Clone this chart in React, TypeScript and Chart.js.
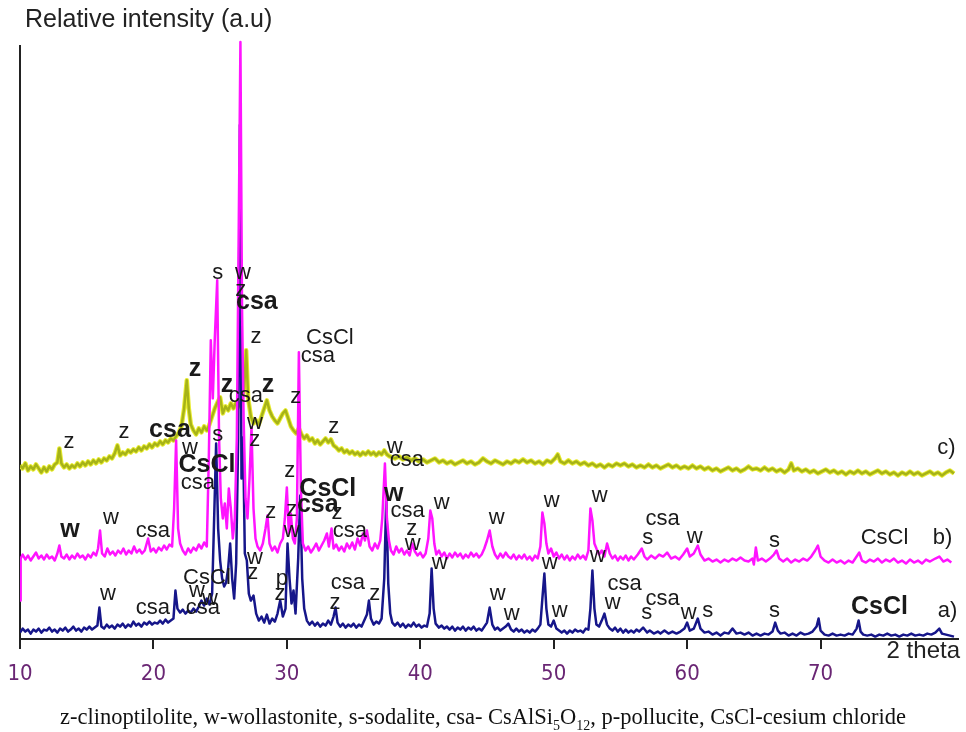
import React, { useEffect, useRef, useState } from "react";
import { Chart, registerables } from "chart.js";

Chart.register(...registerables);

// Sample a) — [2theta, relative intensity]
const traceA: number[][] = [
  [10.0, 6], [10.2, 10], [10.4, 7], [10.6, 9], [10.8, 5], [11.0, 9], [11.2, 7], [11.4, 10], [11.6, 6], [11.8, 9],
  [12.0, 8], [12.2, 11], [12.4, 7], [12.6, 9], [12.8, 6], [13.0, 10], [13.2, 8], [13.4, 11], [13.6, 7], [13.8, 9],
  [14.0, 12], [14.2, 8], [14.4, 10], [14.6, 7], [14.8, 11], [15.0, 9], [15.2, 12], [15.4, 9], [15.6, 11], [15.8, 13],
  [15.95, 31], [16.1, 12], [16.3, 10], [16.5, 14], [16.7, 11], [16.9, 13], [17.1, 10], [17.3, 14], [17.5, 12], [17.7, 15],
  [17.9, 11], [18.1, 14], [18.3, 12], [18.5, 17], [18.7, 13], [18.9, 15], [19.1, 12], [19.3, 16], [19.5, 14], [19.7, 17],
  [19.9, 14], [20.1, 16], [20.3, 15], [20.5, 18], [20.7, 15], [20.9, 19], [21.1, 16], [21.3, 18], [21.5, 20], [21.65, 48],
  [21.8, 30], [22.0, 26], [22.2, 29], [22.4, 25], [22.6, 28], [22.8, 26], [23.0, 30], [23.2, 27], [23.4, 32], [23.6, 38],
  [23.8, 33], [24.0, 40], [24.2, 34], [24.4, 45], [24.55, 120], [24.7, 195], [24.85, 110], [25.0, 78], [25.15, 60], [25.3, 52],
  [25.45, 56], [25.6, 70], [25.75, 95], [25.9, 60], [26.05, 40], [26.2, 75], [26.35, 200], [26.48, 513], [26.6, 160], [26.72, 201],
  [26.85, 85], [27.0, 78], [27.15, 45], [27.3, 38], [27.5, 43], [27.7, 25], [27.9, 18], [28.1, 22], [28.3, 16], [28.5, 24],
  [28.7, 15], [28.9, 20], [29.1, 17], [29.3, 25], [29.5, 38], [29.7, 22], [29.9, 30], [30.05, 95], [30.2, 60], [30.35, 35],
  [30.5, 48], [30.65, 25], [30.85, 80], [31.0, 143], [31.15, 60], [31.3, 30], [31.5, 18], [31.7, 14], [31.9, 17], [32.1, 13],
  [32.3, 16], [32.5, 12], [32.7, 15], [32.9, 13], [33.1, 18], [33.3, 14], [33.5, 22], [33.65, 31], [33.8, 16], [34.0, 12],
  [34.2, 15], [34.4, 11], [34.6, 14], [34.8, 12], [35.0, 15], [35.2, 11], [35.4, 14], [35.6, 12], [35.8, 18], [36.0, 24],
  [36.15, 38], [36.3, 20], [36.5, 14], [36.7, 17], [36.9, 15], [37.1, 20], [37.3, 60], [37.45, 141], [37.6, 55], [37.75, 25],
  [37.9, 16], [38.1, 13], [38.3, 16], [38.5, 12], [38.7, 15], [38.9, 11], [39.1, 14], [39.3, 12], [39.5, 16], [39.7, 12],
  [39.9, 14], [40.1, 11], [40.3, 13], [40.5, 12], [40.7, 25], [40.85, 70], [41.0, 30], [41.15, 15], [41.4, 11], [41.6, 13],
  [41.8, 10], [42.0, 12], [42.2, 9], [42.4, 12], [42.6, 8], [42.8, 11], [43.0, 9], [43.2, 12], [43.4, 8], [43.6, 11],
  [43.8, 9], [44.0, 12], [44.2, 8], [44.4, 10], [44.6, 8], [44.8, 12], [45.0, 16], [45.2, 31], [45.4, 14], [45.6, 9],
  [45.8, 11], [46.0, 8], [46.2, 10], [46.4, 12], [46.6, 15], [46.8, 9], [47.0, 7], [47.2, 10], [47.4, 7], [47.6, 9],
  [47.8, 6], [48.0, 8], [48.2, 6], [48.4, 9], [48.6, 7], [48.8, 10], [49.0, 14], [49.15, 40], [49.3, 65], [49.45, 30],
  [49.6, 14], [49.8, 12], [50.0, 18], [50.2, 10], [50.4, 8], [50.6, 6], [50.8, 8], [51.0, 5], [51.2, 8], [51.4, 6],
  [51.6, 9], [51.8, 7], [52.0, 8], [52.2, 6], [52.4, 10], [52.6, 9], [52.75, 30], [52.9, 68], [53.05, 30], [53.2, 14],
  [53.4, 12], [53.6, 18], [53.8, 25], [54.0, 14], [54.2, 10], [54.4, 8], [54.6, 11], [54.8, 7], [55.0, 10], [55.2, 6],
  [55.4, 9], [55.6, 6], [55.8, 8], [56.0, 6], [56.2, 9], [56.4, 7], [56.7, 11], [57.0, 6], [57.2, 8], [57.5, 5],
  [57.8, 7], [58.0, 5], [58.3, 8], [58.6, 5], [58.9, 7], [59.2, 5], [59.5, 7], [59.8, 10], [60.0, 16], [60.2, 8],
  [60.5, 10], [60.8, 20], [61.0, 10], [61.3, 6], [61.6, 7], [61.9, 4], [62.2, 6], [62.5, 3], [62.8, 6], [63.1, 5],
  [63.4, 10], [63.7, 5], [64.0, 6], [64.3, 4], [64.6, 6], [64.9, 3], [65.2, 5], [65.5, 3], [65.8, 5], [66.1, 4],
  [66.4, 7], [66.6, 16], [66.8, 8], [67.0, 5], [67.3, 6], [67.6, 3], [67.9, 5], [68.2, 3], [68.5, 6], [68.8, 4],
  [69.1, 5], [69.4, 7], [69.7, 12], [69.85, 20], [70.0, 8], [70.3, 4], [70.6, 3], [70.9, 5], [71.2, 3], [71.5, 4],
  [71.8, 3], [72.1, 5], [72.4, 4], [72.7, 10], [72.85, 18], [73.0, 7], [73.2, 4], [73.5, 3], [73.8, 4], [74.1, 2],
  [74.4, 4], [74.7, 3], [75.0, 5], [75.3, 3], [75.6, 4], [75.9, 2], [76.2, 4], [76.5, 3], [76.8, 5], [77.1, 3],
  [77.4, 4], [77.7, 3], [78.0, 5], [78.3, 4], [78.6, 6], [78.9, 10], [79.1, 5], [79.4, 4], [79.7, 3], [80.0, 2],
];

// Sample b)
const traceB: number[][] = [
  [10.0, 38], [10.05, 80], [10.2, 84], [10.4, 79], [10.6, 83], [10.8, 78], [11.0, 82], [11.2, 86], [11.4, 80], [11.6, 83],
  [11.8, 79], [12.0, 84], [12.2, 80], [12.4, 82], [12.6, 78], [12.8, 85], [12.95, 93], [13.1, 82], [13.3, 80], [13.5, 84],
  [13.7, 79], [13.9, 83], [14.1, 80], [14.3, 85], [14.5, 81], [14.7, 83], [14.9, 79], [15.1, 84], [15.3, 81], [15.5, 86],
  [15.7, 83], [15.85, 90], [16.0, 108], [16.15, 85], [16.35, 82], [16.55, 90], [16.75, 84], [16.95, 87], [17.15, 83], [17.35, 88],
  [17.55, 85], [17.75, 90], [17.95, 84], [18.15, 88], [18.35, 85], [18.55, 92], [18.75, 86], [18.95, 89], [19.15, 85], [19.35, 88],
  [19.6, 100], [19.8, 87], [20.0, 90], [20.2, 86], [20.4, 91], [20.6, 88], [20.8, 93], [21.0, 89], [21.2, 94], [21.4, 92],
  [21.55, 130], [21.7, 198], [21.85, 110], [22.0, 95], [22.2, 88], [22.4, 84], [22.6, 90], [22.8, 86], [23.0, 91], [23.2, 88],
  [23.4, 94], [23.6, 90], [23.8, 96], [24.0, 92], [24.15, 180], [24.3, 298], [24.45, 240], [24.6, 300], [24.78, 358], [24.92, 200],
  [25.05, 140], [25.2, 120], [25.35, 135], [25.5, 110], [25.65, 150], [25.8, 130], [25.95, 100], [26.1, 120], [26.25, 200], [26.4, 420],
  [26.52, 596], [26.64, 330], [26.76, 220], [26.9, 140], [27.05, 120], [27.2, 160], [27.35, 211], [27.5, 130], [27.65, 100], [27.8, 92],
  [28.0, 88], [28.2, 95], [28.4, 110], [28.55, 123], [28.7, 95], [28.9, 88], [29.1, 92], [29.3, 86], [29.5, 95], [29.7, 100],
  [29.85, 120], [30.0, 151], [30.15, 105], [30.3, 125], [30.45, 100], [30.6, 95], [30.75, 120], [30.9, 286], [31.05, 150], [31.2, 95],
  [31.4, 88], [31.6, 92], [31.8, 86], [32.0, 90], [32.2, 95], [32.4, 88], [32.6, 93], [32.8, 98], [33.0, 105], [33.15, 92],
  [33.35, 110], [33.5, 90], [33.7, 94], [33.9, 88], [34.1, 92], [34.3, 87], [34.5, 95], [34.7, 90], [34.9, 96], [35.1, 89],
  [35.3, 100], [35.5, 93], [35.7, 105], [35.85, 98], [36.0, 108], [36.2, 92], [36.4, 88], [36.6, 95], [36.8, 90], [37.0, 98],
  [37.15, 120], [37.35, 175], [37.5, 120], [37.65, 98], [37.8, 88], [38.0, 84], [38.2, 92], [38.4, 86], [38.6, 90], [38.8, 84],
  [39.0, 88], [39.2, 83], [39.4, 95], [39.6, 87], [39.8, 83], [40.0, 86], [40.2, 81], [40.4, 85], [40.6, 100], [40.75, 128],
  [40.9, 120], [41.05, 95], [41.2, 84], [41.4, 88], [41.6, 82], [41.8, 86], [42.0, 80], [42.2, 85], [42.4, 81], [42.6, 86],
  [42.8, 82], [43.0, 85], [43.2, 80], [43.4, 84], [43.6, 81], [43.8, 86], [44.0, 82], [44.2, 85], [44.4, 81], [44.6, 84],
  [44.8, 90], [45.0, 98], [45.2, 108], [45.4, 92], [45.6, 84], [45.8, 80], [46.0, 85], [46.2, 81], [46.4, 86], [46.6, 82],
  [46.8, 80], [47.0, 84], [47.2, 79], [47.4, 83], [47.6, 80], [47.8, 84], [48.0, 79], [48.2, 82], [48.4, 78], [48.6, 83],
  [48.8, 80], [49.0, 92], [49.15, 126], [49.3, 115], [49.45, 95], [49.6, 85], [49.8, 90], [50.0, 82], [50.2, 86], [50.4, 80],
  [50.6, 84], [50.8, 79], [51.0, 83], [51.2, 78], [51.4, 82], [51.6, 79], [51.8, 84], [52.0, 80], [52.2, 83], [52.4, 79],
  [52.6, 88], [52.75, 130], [52.9, 118], [53.05, 95], [53.2, 90], [53.4, 84], [53.6, 88], [53.8, 82], [54.0, 95], [54.2, 85],
  [54.4, 80], [54.6, 83], [54.8, 78], [55.0, 82], [55.2, 79], [55.4, 83], [55.6, 78], [55.8, 82], [56.0, 79], [56.3, 84],
  [56.6, 90], [56.8, 82], [57.0, 79], [57.3, 83], [57.6, 80], [57.9, 84], [58.2, 82], [58.5, 86], [58.8, 80], [59.1, 82],
  [59.4, 79], [59.7, 84], [60.0, 90], [60.2, 82], [60.5, 85], [60.8, 93], [61.0, 84], [61.3, 78], [61.6, 80], [61.9, 77],
  [62.2, 79], [62.5, 76], [62.8, 79], [63.1, 77], [63.4, 80], [63.7, 78], [64.0, 81], [64.3, 78], [64.6, 77], [64.9, 80],
  [65.0, 74], [65.15, 91], [65.3, 78], [65.6, 80], [65.9, 77], [66.2, 80], [66.5, 84], [66.7, 88], [66.9, 80], [67.2, 77],
  [67.5, 80], [67.8, 76], [68.1, 79], [68.4, 77], [68.7, 80], [69.0, 78], [69.3, 82], [69.6, 88], [69.8, 93], [70.0, 82],
  [70.3, 78], [70.6, 76], [70.9, 79], [71.2, 76], [71.5, 78], [71.8, 75], [72.1, 78], [72.4, 76], [72.7, 82], [72.9, 86],
  [73.1, 78], [73.4, 76], [73.7, 79], [74.0, 77], [74.3, 80], [74.6, 76], [74.9, 79], [75.2, 77], [75.5, 80], [75.8, 76],
  [76.1, 78], [76.4, 75], [76.7, 79], [77.0, 76], [77.3, 78], [77.6, 75], [77.9, 79], [78.2, 77], [78.6, 80], [78.9, 82],
  [79.2, 77], [79.5, 79], [79.8, 76],
];

// Sample c)
const traceC: number[][] = [
  [10.0, 173], [10.2, 170], [10.4, 175], [10.6, 168], [10.8, 172], [11.0, 169], [11.2, 174], [11.4, 170], [11.6, 166], [11.8, 171],
  [12.0, 167], [12.2, 172], [12.4, 169], [12.6, 174], [12.8, 176], [12.95, 190], [13.1, 175], [13.3, 171], [13.5, 174], [13.7, 170],
  [13.9, 173], [14.1, 171], [14.3, 175], [14.5, 172], [14.7, 176], [14.9, 173], [15.1, 177], [15.3, 174], [15.5, 178], [15.7, 175],
  [15.9, 179], [16.1, 176], [16.3, 180], [16.5, 178], [16.7, 182], [16.9, 180], [17.1, 185], [17.3, 193], [17.5, 183], [17.7, 186],
  [17.9, 184], [18.1, 188], [18.3, 186], [18.5, 189], [18.7, 187], [18.9, 191], [19.1, 188], [19.3, 192], [19.5, 190], [19.7, 194],
  [19.9, 191], [20.1, 195], [20.3, 193], [20.5, 197], [20.7, 194], [20.9, 198], [21.1, 196], [21.3, 200], [21.5, 198], [21.7, 202],
  [21.9, 206], [22.1, 212], [22.3, 230], [22.5, 258], [22.65, 230], [22.8, 214], [23.0, 208], [23.2, 204], [23.4, 210], [23.6, 206],
  [23.8, 212], [24.0, 208], [24.2, 214], [24.4, 222], [24.6, 230], [24.8, 236], [25.0, 241], [25.2, 225], [25.4, 232], [25.6, 228],
  [25.8, 235], [26.0, 230], [26.2, 236], [26.4, 232], [26.6, 238], [26.8, 250], [26.95, 288], [27.1, 240], [27.3, 222], [27.5, 215],
  [27.7, 218], [27.9, 214], [28.1, 222], [28.3, 230], [28.5, 238], [28.7, 228], [28.9, 222], [29.1, 218], [29.3, 215], [29.5, 220],
  [29.7, 225], [29.9, 228], [30.1, 220], [30.3, 212], [30.5, 208], [30.7, 205], [30.9, 210], [31.1, 204], [31.3, 200], [31.5, 203],
  [31.7, 198], [31.9, 200], [32.1, 195], [32.3, 198], [32.5, 194], [32.7, 197], [32.9, 200], [33.1, 196], [33.3, 199], [33.5, 193],
  [33.7, 191], [33.9, 188], [34.1, 190], [34.3, 186], [34.5, 188], [34.7, 185], [34.9, 187], [35.1, 184], [35.3, 186], [35.5, 183],
  [35.7, 186], [35.9, 184], [36.1, 187], [36.3, 184], [36.5, 186], [36.7, 183], [36.9, 186], [37.1, 184], [37.3, 188], [37.5, 184],
  [37.7, 182], [37.9, 181], [38.1, 180], [38.4, 182], [38.7, 179], [39.0, 181], [39.3, 178], [39.6, 180], [39.9, 177], [40.2, 179],
  [40.5, 176], [40.8, 178], [41.1, 180], [41.4, 176], [41.7, 178], [42.0, 175], [42.3, 177], [42.6, 174], [42.9, 176], [43.2, 178],
  [43.5, 175], [43.8, 177], [44.1, 174], [44.4, 176], [44.7, 180], [45.0, 177], [45.3, 175], [45.6, 178], [45.9, 176], [46.2, 174],
  [46.5, 177], [46.8, 175], [47.1, 178], [47.4, 176], [47.7, 179], [48.0, 176], [48.3, 178], [48.6, 175], [48.9, 177], [49.2, 174],
  [49.5, 178], [49.8, 176], [50.1, 180], [50.3, 184], [50.5, 177], [50.8, 175], [51.1, 178], [51.4, 175], [51.7, 177], [52.0, 174],
  [52.3, 176], [52.6, 173], [52.9, 175], [53.2, 172], [53.5, 174], [53.8, 171], [54.1, 174], [54.4, 172], [54.7, 175], [55.0, 173],
  [55.3, 175], [55.6, 172], [55.9, 174], [56.2, 171], [56.5, 173], [56.8, 171], [57.1, 174], [57.4, 171], [57.7, 173], [58.0, 170],
  [58.3, 172], [58.6, 174], [58.9, 171], [59.2, 173], [59.5, 170], [59.8, 172], [60.1, 170], [60.4, 173], [60.7, 170], [61.0, 172],
  [61.3, 169], [61.6, 171], [61.9, 168], [62.2, 170], [62.5, 167], [62.8, 169], [63.1, 171], [63.4, 168], [63.7, 170], [64.0, 167],
  [64.3, 169], [64.6, 172], [64.9, 169], [65.2, 170], [65.5, 168], [65.8, 171], [66.1, 168], [66.4, 170], [66.7, 167], [67.0, 169],
  [67.3, 166], [67.6, 169], [67.8, 175], [68.0, 168], [68.3, 170], [68.6, 167], [68.9, 169], [69.2, 166], [69.5, 168], [69.8, 165],
  [70.1, 167], [70.4, 169], [70.7, 166], [71.0, 168], [71.3, 165], [71.6, 167], [71.9, 164], [72.2, 167], [72.5, 165], [72.8, 168],
  [73.1, 165], [73.4, 167], [73.7, 164], [74.0, 166], [74.3, 168], [74.6, 165], [74.9, 167], [75.2, 164], [75.5, 166], [75.8, 163],
  [76.1, 166], [76.4, 164], [76.7, 167], [77.0, 164], [77.3, 166], [77.6, 163], [77.9, 165], [78.2, 167], [78.5, 164], [78.8, 166],
  [79.1, 163], [79.4, 166], [79.7, 168], [80.0, 165],
];

// Phase labels: [text, 2theta, intensity, bold]
const peakLabels: [string, number, number, boolean][] = [
  ["s", 24.83, 365, false], ["w", 26.7, 365, false], ["z", 26.55, 348, false], ["csa", 27.75, 336, true],
  ["z", 27.68, 301, false], ["CsCl", 33.22, 300, false], ["csa", 32.32, 282, false],
  ["z", 23.11, 269, true], ["z", 25.51, 253, true], ["csa", 26.93, 242, false], ["z", 28.58, 253, true],
  ["z", 30.67, 241, false], ["z", 13.67, 196, false], ["z", 17.79, 206, false], ["csa", 21.24, 208, true],
  ["w", 22.73, 190, false], ["s", 24.83, 203, false], ["w", 27.6, 215, false], ["z", 27.6, 198, false],
  ["z", 33.52, 211, false], ["w", 38.09, 191, false], ["csa", 38.99, 178, false],
  ["CsCl", 24.01, 173, true], ["csa", 23.33, 156, false], ["z", 30.22, 167, false], ["CsCl", 33.07, 149, true],
  ["csa", 32.32, 133, true], ["z", 30.37, 129, false], ["w", 30.37, 108, false], ["z", 28.8, 127, false],
  ["z", 33.75, 126, false], ["csa", 34.72, 108, false], ["w", 38.01, 144, true], ["csa", 39.06, 128, false],
  ["z", 39.36, 110, false], ["w", 39.44, 95, false], ["w", 41.61, 136, false], ["w", 45.73, 121, false],
  ["w", 49.85, 138, false], ["w", 53.45, 143, false], ["w", 13.75, 108, true], ["w", 16.82, 121, false],
  ["csa", 19.96, 108, false], ["csa", 58.16, 120, false], ["s", 57.04, 101, false], ["w", 60.56, 102, false],
  ["s", 66.55, 98, false], ["CsCl", 74.79, 101, false], ["b)", 79.14, 101, false], ["c)", 79.44, 190, false],
  ["a)", 79.51, 28, false], ["CsCl", 74.42, 31, true], ["s", 66.55, 28, false], ["w", 54.42, 36, false],
  ["csa", 55.32, 55, false], ["s", 56.97, 26, false], ["csa", 58.16, 40, false], ["w", 60.11, 26, false],
  ["s", 61.54, 28, false], ["w", 16.59, 45, false], ["csa", 19.96, 31, false], ["CsCl", 24.01, 61, false],
  ["w", 23.26, 48, false], ["w", 24.23, 40, false], ["csa", 23.71, 31, false], ["w", 27.6, 81, false],
  ["z", 27.45, 66, false], ["p", 29.63, 60, false], ["z", 29.48, 45, false], ["csa", 34.57, 56, false],
  ["z", 33.6, 36, false], ["z", 36.59, 45, false], ["w", 41.46, 76, false], ["w", 45.81, 45, false],
  ["w", 46.85, 25, false], ["w", 49.7, 76, false], ["w", 50.45, 28, false], ["w", 53.3, 83, false],
];

const xTicks = [10, 20, 30, 40, 50, 60, 70];

const SANS = '"Liberation Sans", Arial, Helvetica, sans-serif';

const axisPlugin = {
  id: "axisMarks",
  beforeDatasetsDraw(chart: any) {
    const { ctx, chartArea } = chart;
    const x = chart.scales.x;
    const y = chart.scales.y;
    ctx.save();
    ctx.strokeStyle = "#222222";
    ctx.lineWidth = 2;
    ctx.beginPath();
    ctx.moveTo(chartArea.left, y.getPixelForValue(593));
    ctx.lineTo(chartArea.left, chartArea.bottom);
    for (const v of xTicks) {
      const px = Math.round(x.getPixelForValue(v));
      ctx.moveTo(px, chartArea.bottom);
      ctx.lineTo(px, chartArea.bottom + 10);
    }
    ctx.stroke();
    ctx.restore();
  },
};

const labelPlugin = {
  id: "peakLabels",
  afterDatasetsDraw(chart: any) {
    const { ctx } = chart;
    const x = chart.scales.x;
    const y = chart.scales.y;
    ctx.save();
    ctx.textAlign = "center";
    ctx.textBaseline = "middle";
    ctx.fillStyle = "#1a1a1a";
    for (const [t, th, v, big] of peakLabels) {
      ctx.font = big ? `bold 25px ${SANS}` : `22px ${SANS}`;
      ctx.fillText(t, x.getPixelForValue(th), y.getPixelForValue(v));
    }
    ctx.restore();
  },
};

const toXY = (arr: number[][]) => arr.map(([x, y]) => ({ x, y }));

export default function App() {
  const ref = useRef<HTMLCanvasElement>(null);
  const [tickMarks, setTickMarks] = useState<{ left: number; top: number }[]>([]);
  useEffect(() => {
    if (!ref.current) return;
    const chart = new Chart(ref.current, {
      type: "line",
      data: {
        datasets: [
          { label: "b)", data: toXY(traceB), borderColor: "#ff14ff", borderWidth: 2.5, order: 0 },
          { label: "a)", data: toXY(traceA), borderColor: "#16168a", borderWidth: 2.5, order: 1 },
          { label: "c)", data: toXY(traceC), borderColor: "#a6b318", borderWidth: 2.5, order: 2 },
          { label: "c) halo", data: toXY(traceC), borderColor: "#e8ec30", borderWidth: 4.5, order: 3 },
        ] as any,
      },
      options: {
        animation: false,
        responsive: false,
        devicePixelRatio: 1,
        elements: {
          point: { radius: 0 },
          line: { tension: 0, borderJoinStyle: "round", fill: false },
        },
        layout: { padding: { left: 20, right: 8, top: 38, bottom: 31 } },
        plugins: { legend: { display: false }, tooltip: { enabled: false } },
        scales: {
          x: {
            type: "linear",
            min: 10,
            max: 80.3,
            afterBuildTicks: (scale: any) => {
              scale.ticks = xTicks.map((v) => ({ value: v }));
            },
            afterFit: (scale: any) => {
              scale.paddingLeft = 0;
              scale.paddingRight = 0;
            },
            grid: {
              display: true,
              drawOnChartArea: false,
              drawTicks: true,
              tickLength: 8,
              color: "#222222",
              tickColor: "#222222",
              tickWidth: 2,
              lineWidth: 2,
            },
            border: { display: true, color: "#222222", width: 2 },
            ticks: {
              padding: 14,
              color: "#6a2674",
              font: { family: '"Liberation Sans Narrow", "DejaVu Sans Condensed", Roboto, sans-serif', size: 22 },
              maxRotation: 0,
              autoSkip: false,
            },
          },
          y: { type: "linear", display: false, min: 0, max: 600 },
        },
      } as any,
      plugins: [axisPlugin, labelPlugin],
    });
    const xs: any = chart.scales.x;
    setTickMarks(xTicks.map((v) => ({ left: Math.round(xs.getPixelForValue(v)) - 1, top: Math.round(chart.chartArea.bottom) })));
    return () => chart.destroy();
  }, []);

  return (
    <div style={{ position: "fixed", left: 0, top: 0, width: 966, height: 732, background: "#fff", overflow: "hidden" }}>
      <canvas ref={ref} width={966} height={732} style={{ position: "absolute", left: 0, top: 0 }} />
      {tickMarks.map((t, i) => (
        <div key={i} style={{ position: "absolute", left: t.left, top: t.top, width: 2, height: 10, background: "#222" }} />
      ))}
      <div style={{ position: "absolute", left: 25, top: 3, fontFamily: SANS, fontSize: 25, color: "#222", whiteSpace: "nowrap", lineHeight: "30px" }}>
        Relative intensity (a.u)
      </div>
      <div style={{ position: "absolute", right: 6, top: 635, fontFamily: SANS, fontSize: 24, color: "#222", whiteSpace: "nowrap", lineHeight: "30px" }}>
        2 theta
      </div>
      <div
        style={{
          position: "absolute",
          left: 0,
          width: 966,
          top: 703,
          textAlign: "center",
          fontFamily: '"Liberation Serif", "Times New Roman", serif',
          fontSize: 22.5,
          lineHeight: "28px",
          color: "#111",
          whiteSpace: "nowrap",
        }}
      >
        z-clinoptilolite, w-wollastonite, s-sodalite, csa- CsAlSi<sub style={{ fontSize: 14 }}>5</sub>O
        <sub style={{ fontSize: 14 }}>12</sub>, p-pollucite, CsCl-cesium chloride
      </div>
    </div>
  );
}
